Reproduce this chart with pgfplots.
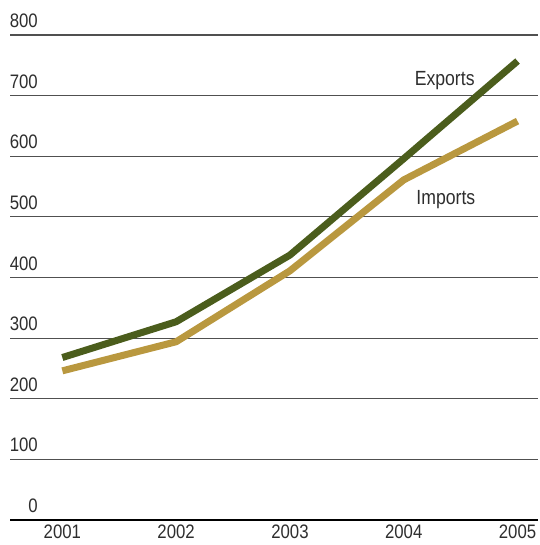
\documentclass[border=0pt]{standalone}
\usepackage{fontspec}
\setmainfont{Liberation Sans}[FakeStretch=0.86]
\usepackage{pgfplots}
\pgfplotsset{compat=1.18}
\definecolor{expgreen}{HTML}{4B5D1C}
\definecolor{imptan}{HTML}{B9983F}
\definecolor{txtgray}{HTML}{2E2E2E}
\definecolor{gridgray}{HTML}{505050}
\begin{document}
\begin{tikzpicture}
\begin{axis}[
  name=ax,
  scale only axis,
  width=528pt, height=485pt,
  xmin=2000.54, xmax=2005.18,
  ymin=0, ymax=800,
  axis line style={draw=none},
  xtick={2001,2002,2003,2004,2005},
  ytick={0,100,...,800},
  xticklabels={2001,2002,2003,2004,2005},
  font=\fontsize{19.5}{21}\selectfont,
  /pgf/number format/assume math mode=true,
  tick label style={text=txtgray},
  yticklabel style={anchor=south east, xshift=28pt, yshift=7pt, inner sep=0pt},
  xticklabel style={anchor=north, yshift=-5pt, inner sep=0pt},
  ymajorgrids,
  grid style={gridgray, line width=1.1pt},
  major tick length=0pt,
  clip=false,
]
\addplot[black, line width=2.6pt, forget plot] coordinates {(2000.54,0) (2005.18,0)};
\addplot[imptan, line width=7pt, line join=round] coordinates {
  (2001,246) (2002,294) (2003,411) (2004,561) (2005,658)};
\addplot[expgreen, line width=7pt, line join=round] coordinates {
  (2001,268) (2002,327) (2003,437) (2004,596) (2005,757)};
\node[text=txtgray, anchor=base, font=\fontsize{20.5}{22}\selectfont] at (axis cs:2004.36,717) {Exports};
\node[text=txtgray, anchor=base, font=\fontsize{20.5}{22}\selectfont] at (axis cs:2004.37,521) {Imports};
\end{axis}
\path[use as bounding box] (ax.south west) ++(-10pt,-25pt) rectangle ([yshift=35pt]ax.north east);
\end{tikzpicture}
\end{document}
